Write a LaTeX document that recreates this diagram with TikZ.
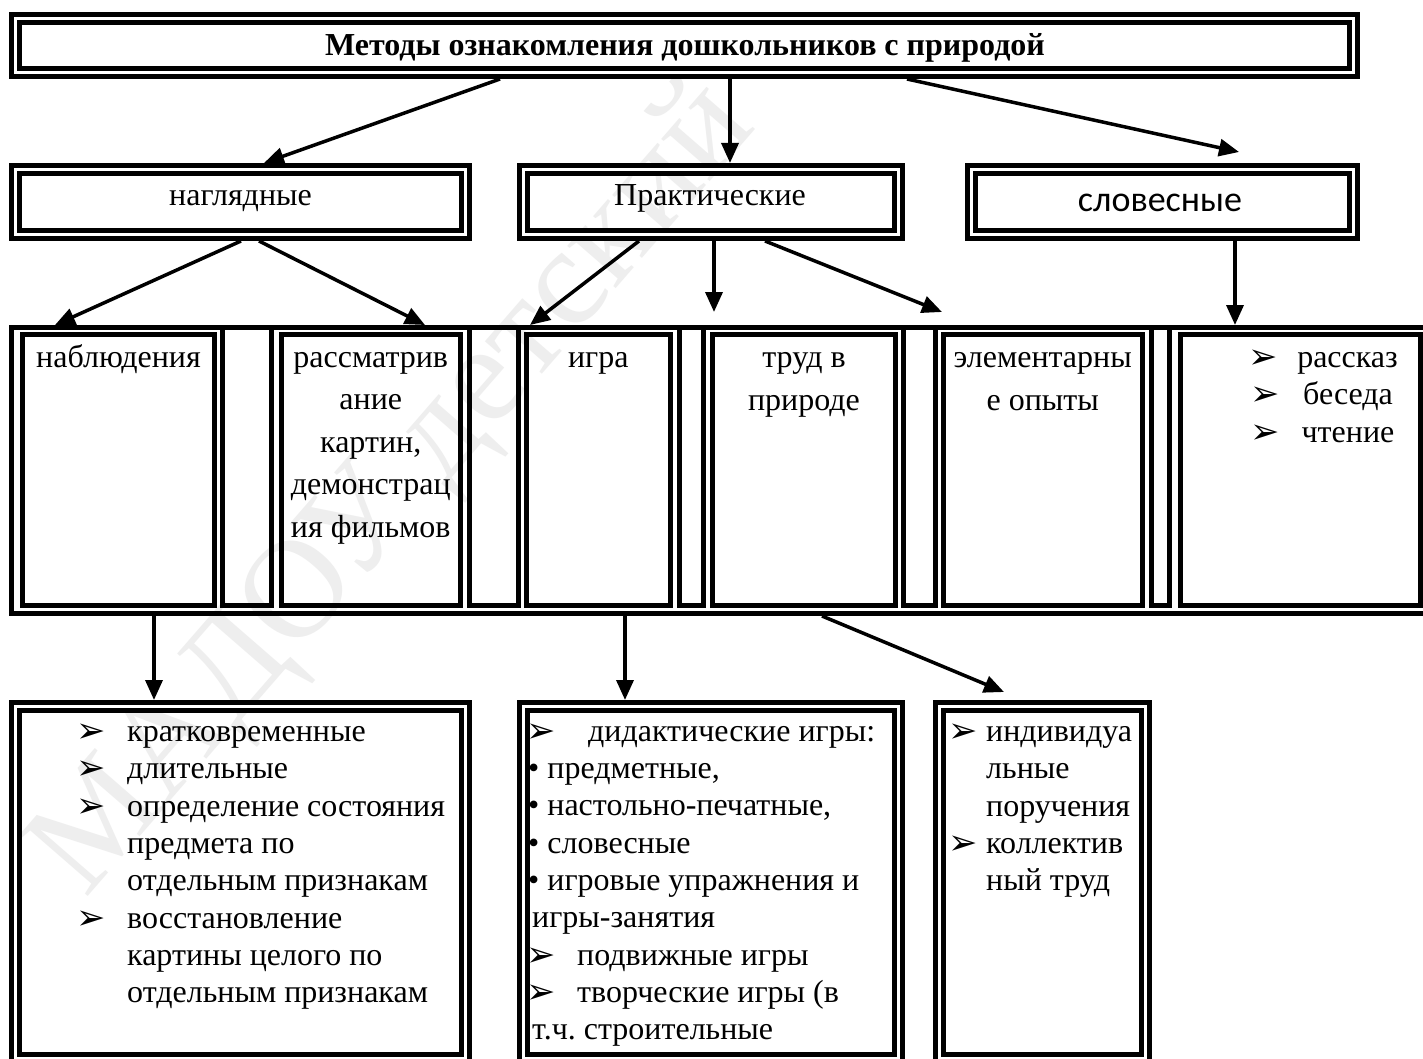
\documentclass[tikz,border=0pt]{standalone}
\usepackage{fontspec}
\setmainfont{Liberation Serif}
\newfontfamily\calibfont{Carlito}
\newfontfamily\djsans{DejaVu Sans}
\usetikzlibrary{arrows.meta,calc}
\frenchspacing
\tikzset{
  dbl/.style={draw, line width=5pt, double=white, double distance=3pt, rectangle, inner sep=0pt, outer sep=6.5pt},
  cellbox/.style={draw, line width=5pt, rectangle, inner sep=0pt, outer sep=2.5pt},
  gapline/.style={line width=5pt},
  txt/.style={font=\fontsize{32}{37}\selectfont, inner sep=0pt, anchor=base},
  txtl/.style={txt, anchor=base west},
  bul/.style={font=\djsans\fontsize{35}{36}\selectfont, inner sep=0pt, anchor=base},
  arr/.style={line width=3.5pt, -{Triangle[length=20pt,width=17pt]}},
  wmark/.style={font=\fontsize{140}{140}\selectfont, text=gray!13, rotate=49, anchor=base west, inner sep=0pt},
}
\begin{document}
\begin{tikzpicture}[x=1pt,y=-1pt]
\useasboundingbox (0,0) rectangle (1423,1059);
\clip (0,0) rectangle (1423,1059);
\fill[white] (0,0) rectangle (1423,1059);
% watermark
\node[wmark] (wm) at (85,900) {МАДОУ детский};
% top
\node[dbl, minimum width=1338pt, minimum height=54pt] (top) at (684.5,45.5) {};
\node[font=\bfseries\fontsize{32}{38}\selectfont, inner sep=0pt, anchor=base] (title) at (685,56) {Методы ознакомления дошкольников с природой};
% row 2
\node[dbl, minimum width=450pt, minimum height=65pt] (nagl) at (240.5,202) {};
\node[txt] (naglT) at (240.5,206) {наглядные};
\node[dbl, minimum width=375pt, minimum height=65pt] (prak) at (711,202) {};
\node[txt] (prakT) at (710,206) {Практические};
\node[dbl, minimum width=382pt, minimum height=65pt] (slov) at (1162.5,202) {};
\node[font=\calibfont\fontsize{36}{40}\selectfont, inner sep=0pt, anchor=base] (slovT) at (1160,212) {словесные};
% row 3 table
\node[cellbox, minimum width=1416.5pt, minimum height=286.5pt] (tbl) at (719.75,470.25) {};
\node[cellbox, minimum width=192pt, minimum height=271pt] (nabl) at (118.5,470) {};
\node[cellbox, minimum width=179.5pt, minimum height=271pt] (rasm) at (370.75,470) {};
\node[cellbox, minimum width=144.5pt, minimum height=271pt] (igra) at (598.25,470) {};
\node[cellbox, minimum width=183pt, minimum height=271pt] (trud) at (804,470) {};
\node[cellbox, minimum width=199.5pt, minimum height=271pt] (elem) at (1042.75,470) {};
\node[cellbox, minimum width=240pt, minimum height=271pt] (rass) at (1300.5,470) {};
\draw[gapline] (222,327) -- (222,605.5) -- (271.5,605.5) -- (271.5,327);
\draw[gapline] (469.5,327) -- (469.5,605.5) -- (518.5,605.5) -- (518.5,327);
\draw[gapline] (679.5,327) -- (679.5,605.5) -- (703,605.5) -- (703,327);
\draw[gapline] (903,327) -- (903,605.5) -- (935,605.5) -- (935,327);
\draw[gapline] (1151,327) -- (1151,605.5) -- (1169.5,605.5) -- (1169.5,327);
% row 3 texts
\node[txt] (nablT) at (118.5,367) {наблюдения};
\node[txt] (rasmT1) at (370.75,367) {рассматрив};
\node[txt] (rasmT2) at (370.75,409.5) {ание};
\node[txt] (rasmT3) at (370.75,452) {картин,};
\node[txt] (rasmT4) at (370.75,494.5) {демонстрац};
\node[txt] (rasmT5) at (370.75,537) {ия фильмов};
\node[txt] (igraT) at (598.25,367) {игра};
\node[txt] (trudT1) at (804,367) {труд в};
\node[txt] (trudT2) at (804,410) {природе};
\node[txt] (elemT1) at (1042.75,367) {элементарны};
\node[txt] (elemT2) at (1042.75,410) {е опыты};
\node[bul] (rassB1) at (1263,368) {➢};
\node[txt] (rassT1) at (1347.5,367) {рассказ};
\node[bul] (rassB2) at (1265,405) {➢};
\node[txt] (rassT2) at (1348,404) {беседа};
\node[bul] (rassB3) at (1265,443) {➢};
\node[txt] (rassT3) at (1348,442) {чтение};
% bottom boxes
\node[dbl, minimum width=450pt, minimum height=352pt] (bA) at (240.5,882.5) {};
\node[dbl, minimum width=375pt, minimum height=352pt] (bB) at (711,882.5) {};
\node[dbl, minimum width=206pt, minimum height=352pt] (bC) at (1042.5,882.5) {};
% box A
\node[bul] (aB1) at (91,742) {➢};
\node[txtl] (aT1) at (127,741) {кратковременные};
\node[bul] (aB2) at (91,779) {➢};
\node[txtl] (aT2) at (127,778) {длительные};
\node[bul] (aB3) at (91,817) {➢};
\node[txtl] (aT3) at (127,816) {определение состояния};
\node[txtl] (aT4) at (127,853) {предмета по};
\node[txtl] (aT5) at (127,890) {отдельным признакам};
\node[bul] (aB6) at (91,929) {➢};
\node[txtl] (aT6) at (127,928) {восстановление};
\node[txtl] (aT7) at (127,965) {картины целого по};
\node[txtl] (aT8) at (127,1002) {отдельным признакам};
% box B
\node[bul] (bB1) at (541,742) {➢};
\node[txtl] (bT1) at (588,741) {дидактические игры:};
\node[txtl] (bT2) at (528,778) {• предметные,};
\node[txtl] (bT3) at (528,815) {• настольно-печатные,};
\node[txtl] (bT4) at (528,853) {• словесные};
\node[txtl] (bT5) at (528,890) {• игровые упражнения и};
\node[txtl] (bT6) at (532,927) {игры-занятия};
\node[bul] (bB7) at (541,966) {➢};
\node[txtl] (bT7) at (577,965) {подвижные игры};
\node[bul] (bB8) at (541,1003) {➢};
\node[txtl] (bT8) at (577,1002) {творческие игры (в};
\node[txtl] (bT9) at (532,1039) {т.ч. строительные};
% box C
\node[bul] (cB1) at (963,742) {➢};
\node[txtl] (cT1) at (986,741) {индивидуа};
\node[txtl] (cT2) at (986,778) {льные};
\node[txtl] (cT3) at (986,816) {поручения};
\node[bul] (cB4) at (963,854) {➢};
\node[txtl] (cT4) at (986,853) {коллектив};
\node[txtl] (cT5) at (986,890) {ный труд};
% arrows
\draw[arr] ($(top.south)+(-184.5,0)$) -- ($(nagl.north)+(23.5,0)$);
\draw[arr] ($(top.south)+(45.5,0)$) -- ($(prak.north)+(19,0)$);
\draw[arr] ($(top.south)+(222.5,0)$) -- ($(slov.north)+(76.5,-11)$);
\draw[arr] ($(nagl.south)+(0.5,0)$) -- ($(tbl.north)+(-664.75,0.5)$);
\draw[arr] ($(nagl.south)+(18.5,0)$) -- ($(tbl.north)+(-294.75,0.5)$);
\draw[arr] ($(prak.south)+(-72,0)$) -- ($(tbl.north)+(-189.75,0.5)$);
\draw[arr] ($(prak.south)+(3,0)$) -- ($(trud.north)+(-90,-20)$);
\draw[arr] ($(prak.south)+(54,0)$) -- ($(elem.north)+(-100.75,-20)$);
\draw[arr] ($(slov.south)+(72.5,0)$) -- ($(rass.north)+(-65.5,-7)$);
\draw[arr] ($(tbl.south)+(-565.75,0)$) -- ($(bA.north)+(-86.5,0)$);
\draw[arr] ($(tbl.south)+(-94.75,0)$) -- ($(bB.north)+(-86,0)$);
\draw[arr] ($(tbl.south)+(102.25,0)$) -- ($(bC.north)+(-38.5,-8)$);
\end{tikzpicture}
\end{document}
